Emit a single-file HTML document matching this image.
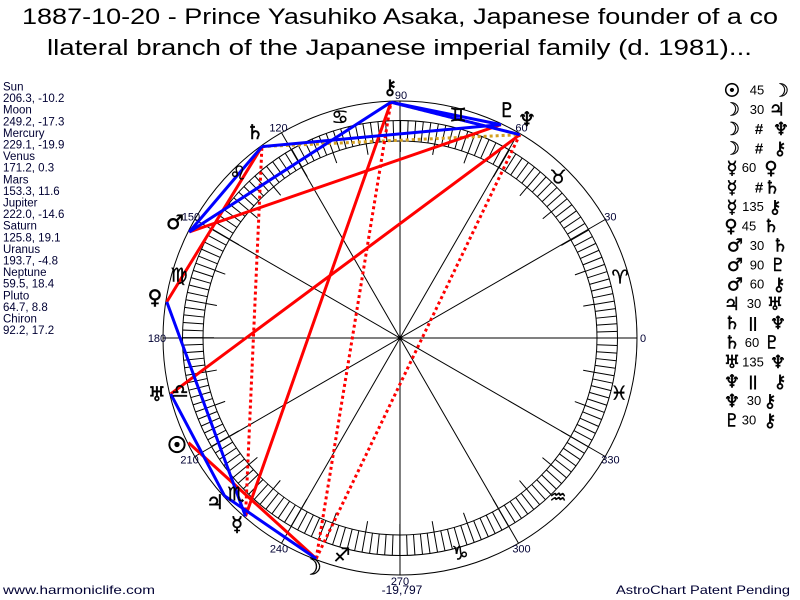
<!DOCTYPE html>
<html>
<head>
<meta charset="utf-8">
<style>
html,body{margin:0;padding:0;background:#fff;}
svg{display:block;}
.lt{font-family:"Liberation Sans","DejaVu Sans",sans-serif;font-size:11.5px;fill:#000033;}
.lbl{font-family:"Liberation Sans","DejaVu Sans",sans-serif;font-size:11px;fill:#000033;text-anchor:middle;}
.g{font-family:"DejaVu Sans",sans-serif;font-size:20px;fill:#000;stroke:#000;stroke-width:0.5;text-anchor:middle;}
.s{font-family:"DejaVu Sans",sans-serif;font-size:19px;fill:#000;stroke:#000;stroke-width:0.4;text-anchor:middle;}
.al{font-family:"DejaVu Sans",sans-serif;font-size:18px;fill:#000;stroke:#000;stroke-width:0.45;text-anchor:middle;}
.an{font-family:"Liberation Sans","DejaVu Sans",sans-serif;font-size:13px;fill:#000;text-anchor:middle;}
.ft{font-family:"Liberation Sans","DejaVu Sans",sans-serif;font-size:12px;fill:#000033;}
</style>
</head>
<body>
<svg width="800" height="600" viewBox="0 0 800 600" xmlns="http://www.w3.org/2000/svg">
<rect width="800" height="600" fill="#fff"/>

<!-- Title -->
<text x="22" y="24" textLength="756" lengthAdjust="spacingAndGlyphs" style="font-family:'Liberation Sans','DejaVu Sans',sans-serif;font-size:22px;fill:#000;">1887-10-20 - Prince Yasuhiko Asaka, Japanese founder of a co</text>
<text x="47" y="55" textLength="705" lengthAdjust="spacingAndGlyphs" style="font-family:'Liberation Sans','DejaVu Sans',sans-serif;font-size:22px;fill:#000;">llateral branch of the Japanese imperial family (d. 1981)...</text>

<!-- Left planet list -->
<text class="lt" x="3" y="90.5">Sun</text>
<text class="lt" x="3" y="102.1">206.3, -10.2</text>
<text class="lt" x="3" y="113.7">Moon</text>
<text class="lt" x="3" y="125.3">249.2, -17.3</text>
<text class="lt" x="3" y="136.9">Mercury</text>
<text class="lt" x="3" y="148.5">229.1, -19.9</text>
<text class="lt" x="3" y="160.1">Venus</text>
<text class="lt" x="3" y="171.7">171.2, 0.3</text>
<text class="lt" x="3" y="183.3">Mars</text>
<text class="lt" x="3" y="194.9">153.3, 11.6</text>
<text class="lt" x="3" y="206.5">Jupiter</text>
<text class="lt" x="3" y="218.1">222.0, -14.6</text>
<text class="lt" x="3" y="229.7">Saturn</text>
<text class="lt" x="3" y="241.3">125.8, 19.1</text>
<text class="lt" x="3" y="252.9">Uranus</text>
<text class="lt" x="3" y="264.5">193.7, -4.8</text>
<text class="lt" x="3" y="276.1">Neptune</text>
<text class="lt" x="3" y="287.7">59.5, 18.4</text>
<text class="lt" x="3" y="299.3">Pluto</text>
<text class="lt" x="3" y="310.9">64.7, 8.8</text>
<text class="lt" x="3" y="322.5">Chiron</text>
<text class="lt" x="3" y="334.1">92.2, 17.2</text>

<!-- Wheel -->
<circle cx="400" cy="338" r="237" fill="none" stroke="#000" stroke-width="1"/>
<circle cx="400" cy="338" r="217.5" fill="none" stroke="#000" stroke-width="1"/>
<circle cx="400" cy="338" r="197" fill="none" stroke="#000" stroke-width="1"/>
<circle cx="400" cy="338" r="207.25" fill="none" stroke="#000" stroke-width="20.5" stroke-dasharray="1 6.2365" stroke-dashoffset="0.5"/>
<circle cx="400" cy="338" r="191.5" fill="none" stroke="#000" stroke-width="11" stroke-dasharray="1 32.423" stroke-dashoffset="0.5"/>

<g stroke="#000" stroke-width="1">
<line x1="163" y1="338" x2="637" y2="338"/>
<line x1="605.2" y1="219.5" x2="194.8" y2="456.5"/>
<line x1="518.5" y1="132.8" x2="281.5" y2="543.2"/>
<line x1="400" y1="101" x2="400" y2="575"/>
<line x1="281.5" y1="132.8" x2="518.5" y2="543.2"/>
<line x1="194.8" y1="219.5" x2="605.2" y2="456.5"/>
</g>
<circle cx="400" cy="338" r="2.2" fill="#000"/>

<!-- Aspect lines -->
<g stroke-width="3" stroke-linecap="butt" fill="none">
<line x1="261.9" y1="146.6" x2="519.8" y2="134.7" stroke="#D4A020" stroke-dasharray="3 3"/>
<line x1="519.8" y1="134.7" x2="390.9" y2="102.2" stroke="#D4A020" stroke-dasharray="3 3"/>
<line x1="316.2" y1="558.6" x2="519.8" y2="134.7" stroke="#FF0000" stroke-dasharray="3 3"/>
<line x1="316.2" y1="558.6" x2="390.9" y2="102.2" stroke="#FF0000" stroke-dasharray="3 3"/>
<line x1="245.5" y1="516.4" x2="261.9" y2="146.6" stroke="#FF0000" stroke-dasharray="3 3"/>
<line x1="188.4" y1="442.6" x2="316.2" y2="558.6" stroke="#FF0000"/>
<line x1="245.5" y1="516.4" x2="390.9" y2="102.2" stroke="#FF0000"/>
<line x1="166.8" y1="301.9" x2="261.9" y2="146.6" stroke="#FF0000"/>
<line x1="189.2" y1="232.0" x2="500.9" y2="124.6" stroke="#FF0000"/>
<line x1="170.7" y1="393.9" x2="519.8" y2="134.7" stroke="#FF0000"/>
<line x1="316.2" y1="558.6" x2="224.6" y2="495.9" stroke="#0000FF"/>
<line x1="245.5" y1="516.4" x2="166.8" y2="301.9" stroke="#0000FF"/>
<line x1="189.2" y1="232.0" x2="261.9" y2="146.6" stroke="#0000FF"/>
<line x1="189.2" y1="232.0" x2="390.9" y2="102.2" stroke="#0000FF"/>
<line x1="224.6" y1="495.9" x2="170.7" y2="393.9" stroke="#0000FF"/>
<line x1="261.9" y1="146.6" x2="500.9" y2="124.6" stroke="#0000FF"/>
<line x1="519.8" y1="134.7" x2="390.9" y2="102.2" stroke="#0000FF"/>
<line x1="500.9" y1="124.6" x2="390.9" y2="102.2" stroke="#0000FF"/>
</g>

<!-- Degree labels -->
<text class="lbl" x="643" y="338" dy="0.35em">0</text>
<text class="lbl" x="610.4" y="216.5" dy="0.35em">30</text>
<text class="lbl" x="521.5" y="127.6" dy="0.35em">60</text>
<text class="lbl" x="401" y="95" dy="0.35em">90</text>
<text class="lbl" x="278.5" y="127.6" dy="0.35em">120</text>
<text class="lbl" x="191" y="216.5" dy="0.35em">150</text>
<text class="lbl" x="157" y="338" dy="0.35em">180</text>
<text class="lbl" x="189.6" y="459.5" dy="0.35em">210</text>
<text class="lbl" x="279" y="548.4" dy="0.35em">240</text>
<text class="lbl" x="400" y="581" dy="0.35em">270</text>
<text class="lbl" x="521.5" y="548.4" dy="0.35em">300</text>
<text class="lbl" x="610.4" y="459.5" dy="0.35em">330</text>

<!-- Zodiac signs -->
<text class="s" x="620" y="277" dy="0.35em">♈</text>
<text class="s" x="558" y="177" dy="0.35em">♉</text>
<text class="s" x="458" y="115" dy="0.35em">♊</text>
<text class="s" x="340" y="117" dy="0.35em">♋</text>
<text class="s" x="238" y="173" dy="0.35em">♌</text>
<text class="s" x="179" y="275" dy="0.35em">♍</text>
<text class="s" x="180" y="391" dy="0.35em">♎</text>
<text class="s" x="236" y="494" dy="0.35em">♏</text>
<text class="s" x="342" y="555" dy="0.35em">♐</text>
<text class="s" x="460" y="553" dy="0.35em">♑</text>
<text class="s" x="558" y="497" dy="0.35em">♒</text>
<text class="s" x="619" y="393" dy="0.35em">♓</text>

<!-- Planet glyphs -->
<text class="g" x="390" y="87" dy="0.35em">⚷</text>
<text class="g" x="507" y="110" dy="0.35em">♇</text>
<text class="g" x="527" y="119" dy="0.35em">♆</text>
<text class="g" x="255" y="132" dy="0.35em">♄</text>
<text class="g" x="175" y="222" dy="0.35em">♂</text>
<text class="g" x="155" y="297" dy="0.35em">♀</text>
<text class="g" x="157" y="394" dy="0.35em">♅</text>
<text class="g" x="177" y="445" dy="0.35em" style="font-size:22px;stroke-width:1.2;">☉</text>
<text class="g" x="215" y="502" dy="0.35em">♃</text>
<text class="g" x="237" y="524" dy="0.35em">☿</text>
<text class="g" x="312" y="567" dy="0.35em" style="font-size:22px;">☽</text>

<!-- Aspect list -->
<g>
<text class="al" x="732" y="90" dy="0.35em" style="stroke-width:0.9;">☉</text><text class="an" x="757" y="90" dy="0.35em">45</text><text class="al" x="781" y="90" dy="0.35em">☽</text>
<text class="al" x="732" y="109.4" dy="0.35em">☽</text><text class="an" x="757" y="109.4" dy="0.35em">30</text><text class="al" x="777" y="109.4" dy="0.35em">♃</text>
<text class="al" x="732" y="128.8" dy="0.35em">☽</text><text class="an" x="759" y="128.8" dy="0.35em" style="font-weight:bold;font-size:15px;">#</text><text class="al" x="781" y="128.8" dy="0.35em">♆</text>
<text class="al" x="732" y="148.2" dy="0.35em">☽</text><text class="an" x="759" y="148.2" dy="0.35em" style="font-weight:bold;font-size:15px;">#</text><text class="al" x="780" y="148.2" dy="0.35em">⚷</text>
<text class="al" x="732" y="167.6" dy="0.35em">☿</text><text class="an" x="749" y="167.6" dy="0.35em">60</text><text class="al" x="771" y="167.6" dy="0.35em">♀</text>
<text class="al" x="732" y="187.1" dy="0.35em">☿</text><text class="an" x="759" y="187.1" dy="0.35em" style="font-weight:bold;font-size:15px;">#</text><text class="al" x="772" y="187.1" dy="0.35em">♄</text>
<text class="al" x="732" y="206.5" dy="0.35em">☿</text><text class="an" x="753" y="206.5" dy="0.35em">135</text><text class="al" x="775" y="206.5" dy="0.35em">⚷</text>
<text class="al" x="731" y="225.9" dy="0.35em">♀</text><text class="an" x="749" y="225.9" dy="0.35em">45</text><text class="al" x="771" y="225.9" dy="0.35em">♄</text>
<text class="al" x="735" y="245.3" dy="0.35em">♂</text><text class="an" x="757" y="245.3" dy="0.35em">30</text><text class="al" x="780" y="245.3" dy="0.35em">♄</text>
<text class="al" x="735" y="264.7" dy="0.35em">♂</text><text class="an" x="757" y="264.7" dy="0.35em">90</text><text class="al" x="778" y="264.7" dy="0.35em">♇</text>
<text class="al" x="735" y="284.1" dy="0.35em">♂</text><text class="an" x="757" y="284.1" dy="0.35em">60</text><text class="al" x="779" y="284.1" dy="0.35em">⚷</text>
<text class="al" x="732" y="303.5" dy="0.35em">♃</text><text class="an" x="754" y="303.5" dy="0.35em">30</text><text class="al" x="775" y="303.5" dy="0.35em">♅</text>
<text class="al" x="732" y="322.9" dy="0.35em">♄</text><text class="an" x="753" y="322.9" dy="0.35em" style="font-weight:bold;font-size:15px;">||</text><text class="al" x="778" y="322.9" dy="0.35em">♆</text>
<text class="al" x="732" y="342.3" dy="0.35em">♄</text><text class="an" x="752" y="342.3" dy="0.35em">60</text><text class="al" x="772" y="342.3" dy="0.35em">♇</text>
<text class="al" x="732" y="361.7" dy="0.35em">♅</text><text class="an" x="753" y="361.7" dy="0.35em">135</text><text class="al" x="778" y="361.7" dy="0.35em">♆</text>
<text class="al" x="732" y="381.1" dy="0.35em">♆</text><text class="an" x="753" y="381.1" dy="0.35em" style="font-weight:bold;font-size:15px;">||</text><text class="al" x="780" y="381.1" dy="0.35em">⚷</text>
<text class="al" x="732" y="400.6" dy="0.35em">♆</text><text class="an" x="754" y="400.6" dy="0.35em">30</text><text class="al" x="770" y="400.6" dy="0.35em">⚷</text>
<text class="al" x="732" y="420" dy="0.35em">♇</text><text class="an" x="749" y="420" dy="0.35em">30</text><text class="al" x="770" y="420" dy="0.35em">⚷</text>
</g>

<!-- Footer -->
<text class="ft" x="3" y="594" textLength="152" lengthAdjust="spacingAndGlyphs">www.harmoniclife.com</text>
<text class="ft" x="402" y="594" text-anchor="middle">-19,797</text>
<text class="ft" x="616" y="594" textLength="174" lengthAdjust="spacingAndGlyphs">AstroChart Patent Pending</text>
</svg>
</body>
</html>
